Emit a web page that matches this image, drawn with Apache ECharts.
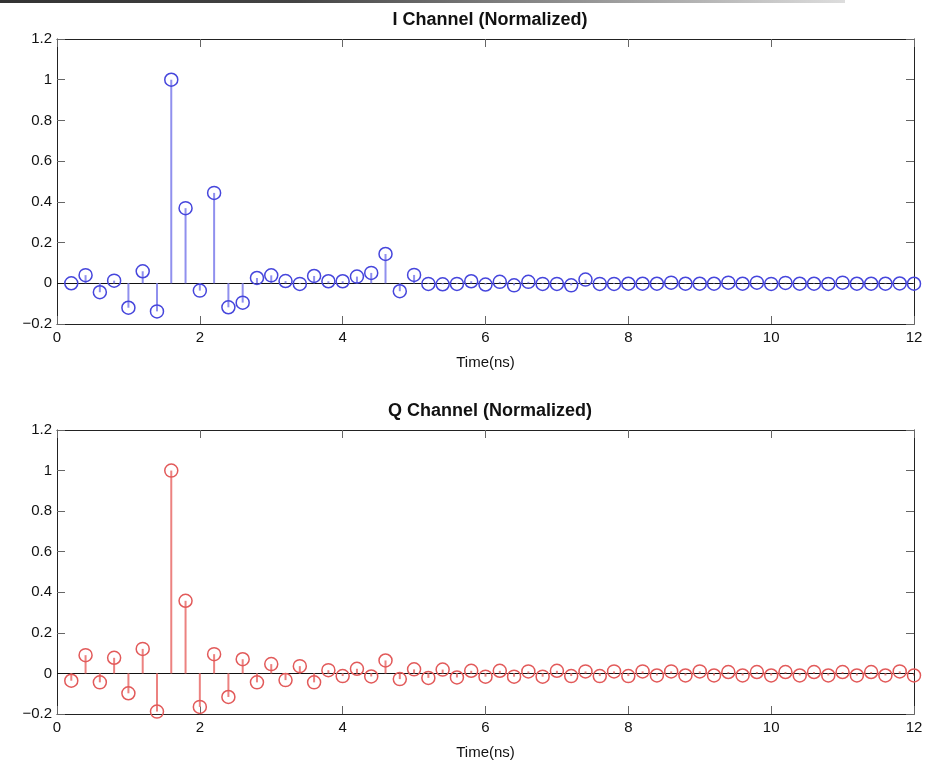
<!DOCTYPE html>
<html>
<head>
<meta charset="utf-8">
<script src="https://cdn.jsdelivr.net/npm/echarts@6/dist/echarts.min.js"></script>
<style>
html,body{margin:0;padding:0;background:#fff;}
#chart{width:937px;height:764px;}
</style>
</head>
<body>
<div id="chart"></div>
<script>
const times = [0.2,0.4,0.6,0.8,1.0,1.2,1.4,1.6,1.8,2.0,2.2,2.4,2.6,2.8,3.0,3.2,3.4,3.6,3.8,4.0,
  4.2,4.4,4.6,4.8,5.0,5.2,5.4,5.6,5.8,6.0,6.2,6.4,6.6,6.8,7.0,7.2,7.4,7.6,7.8,8.0,
  8.2,8.4,8.6,8.8,9.0,9.2,9.4,9.6,9.8,10.0,10.2,10.4,10.6,10.8,11.0,11.2,11.4,11.6,11.8,12.0];
const iValues = [0.0,0.04,-0.044,0.013,-0.12,0.059,-0.138,1.0,0.369,-0.036,
  0.444,-0.118,-0.095,0.026,0.039,0.011,-0.003,0.036,0.01,0.01,
  0.033,0.051,0.144,-0.039,0.041,-0.003,-0.005,-0.003,0.01,-0.006,
  0.007,-0.01,0.007,-0.003,-0.003,-0.01,0.018,-0.003,-0.003,-0.002,
  -0.002,-0.002,0.003,-0.002,-0.002,-0.002,0.003,-0.002,0.003,-0.003,
  0.002,-0.002,-0.002,-0.003,0.003,-0.002,-0.002,-0.002,-0.001,-0.002];
const qValues = [-0.036,0.09,-0.044,0.077,-0.098,0.121,-0.188,1.0,0.358,-0.165,
  0.095,-0.116,0.07,-0.044,0.046,-0.033,0.036,-0.044,0.016,-0.013,
  0.023,-0.015,0.064,-0.028,0.02,-0.022,0.019,-0.02,0.013,-0.016,
  0.013,-0.016,0.01,-0.016,0.013,-0.013,0.01,-0.013,0.01,-0.013,
  0.01,-0.01,0.01,-0.01,0.01,-0.01,0.007,-0.01,0.007,-0.01,
  0.007,-0.01,0.007,-0.01,0.007,-0.01,0.007,-0.01,0.01,-0.01];
const titles = ['I Channel (Normalized)','Q Channel (Normalized)'];
const xLabel = 'Time(ns)';
const xRange = [0, 12, 2];
const yRange = [-0.2, 1.2, 0.2];

const FONT = 'Liberation Sans';
const chart = echarts.init(document.getElementById('chart'));

const grids = [
  {left:57, top:39, width:857, height:285},
  {left:57, top:430, width:857, height:284}
];

function pair(a,b){ return a.map((v,i)=>[v,b[i]]); }

const xAxes = [], yAxes = [], series = [];
const stemColors = ['#9090ee','#ec8280'];
const markColors = ['#4646dc','#e25a5a'];
const vals = [iValues, qValues];

grids.forEach((g,gi)=>{
  const base = {
    gridIndex: gi, type:'value', min:xRange[0], max:xRange[1], interval:xRange[2],
    axisLine:{show:true, onZero:false, lineStyle:{color:'#222', width:1}},
    axisTick:{show:true, inside:true, length:8, lineStyle:{color:'#666'}},
    splitLine:{show:false}
  };
  xAxes.push(Object.assign({}, base, {
    position:'bottom', name:xLabel, nameLocation:'middle', nameGap:31,
    nameTextStyle:{fontFamily:FONT, fontSize:15, color:'#111'},
    axisLabel:{fontFamily:FONT, fontSize:15, color:'#111', margin:6}
  }));
  xAxes.push(Object.assign({}, base, {position:'top', axisLabel:{show:false}}));
  const ybase = {
    gridIndex: gi, type:'value', min:yRange[0], max:yRange[1], interval:yRange[2],
    axisLine:{show:true, onZero:false, lineStyle:{color:'#222', width:1}},
    axisTick:{show:true, inside:true, length:8, lineStyle:{color:'#666'}},
    splitLine:{show:false}
  };
  yAxes.push(Object.assign({}, ybase, {
    position:'left',
    axisLabel:{fontFamily:FONT, fontSize:15, color:'#111', margin:5,
      formatter: v => { const r = Math.round(v*10)/10; return r < 0 ? '\u2212' + Math.abs(r) : String(r); }}
  }));
  yAxes.push(Object.assign({}, ybase, {position:'right', axisLabel:{show:false}}));

  const data = pair(times, vals[gi]);
  series.push({
    type:'custom', xAxisIndex: gi*2, yAxisIndex: gi*2, clip:true, silent:true,
    data: data,
    renderItem: (params, api) => {
      const p0 = api.coord([api.value(0), 0]);
      const p1 = api.coord([api.value(0), api.value(1)]);
      return {type:'line', shape:{x1:p0[0], y1:p0[1], x2:p1[0], y2:p1[1]},
        style:{stroke:stemColors[gi], lineWidth:2}};
    },
    z:2
  });
  series.push({
    type:'scatter', xAxisIndex: gi*2, yAxisIndex: gi*2, silent:true,
    symbol:'circle', symbolSize:13,
    itemStyle:{color:'rgba(255,255,255,0)', borderColor:markColors[gi], borderWidth:1.5, opacity:1},
    data: data, z:3,
    markLine:{silent:true, symbol:'none', label:{show:false}, animation:false,
      lineStyle:{color:'#111', width:1, type:'solid'},
      data:[{yAxis:0}], z:1}
  });
});

chart.setOption({
  animation:false,
  backgroundColor:'#fff',
  title: [
    {text:titles[0], left:485, top:6, textAlign:'center',
      textStyle:{fontFamily:FONT, fontSize:18, fontWeight:'bold', color:'#111'}},
    {text:titles[1], left:485, top:397, textAlign:'center',
      textStyle:{fontFamily:FONT, fontSize:18, fontWeight:'bold', color:'#111'}}
  ],
  graphic:[{type:'rect', left:0, top:0, shape:{width:845, height:3},
    style:{fill:new echarts.graphic.LinearGradient(0,0,1,0,[
      {offset:0,color:'#333'},{offset:0.35,color:'#444'},{offset:1,color:'#ddd'}])}}],
  grid: grids,
  xAxis: xAxes,
  yAxis: yAxes,
  series: series
});
</script>
</body>
</html>
